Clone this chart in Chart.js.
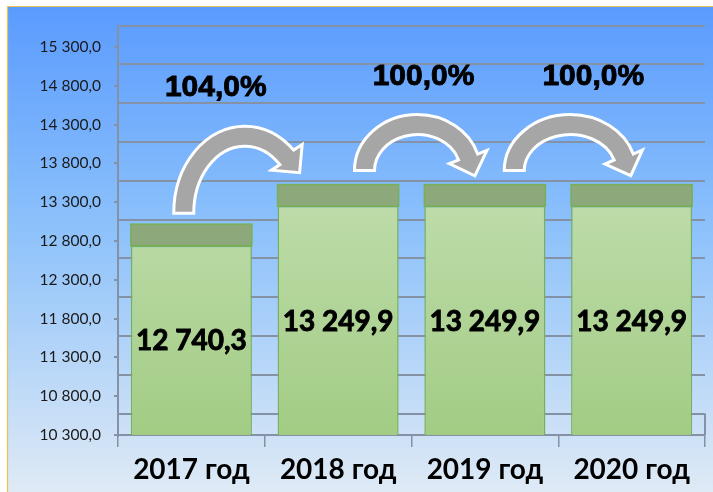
<!DOCTYPE html>
<html>
<head>
<meta charset="utf-8">
<script src="https://cdn.jsdelivr.net/npm/chart.js@4.4.1/dist/chart.umd.min.js"></script>
<style>
  html, body { margin: 0; padding: 0; background: #fff; }
  #wrap { width: 713px; height: 492px; position: relative; }
</style>
</head>
<body>
<div id="wrap"><canvas id="chart" width="713" height="492"></canvas></div>
<script>
// data
const years = ['2017 год', '2018 год', '2019 год', '2020 год'];
const amounts = [12740.3, 13249.9, 13249.9, 13249.9];
const growth = [104.0, 100.0, 100.0];   // % к предыдущему году
const yMin = 10300, yMax = 15300, yStep = 500;

// looks
const DEPTH = 21.5;        // "3d" depth in px
const gridColor = '#8592a6';
const arrowStyle = [
    { dx: -20, rx: 61, ry: 77, end: -0.81, gap: 11, lx: -29 },
    { dx: 6,   rx: 53, ry: 46, end: -0.30, gap: 14, lx: 6 },
    { dx: 12,  rx: 56, ry: 46, end: -0.30, gap: 14, lx: 23 }
];

function fmt(v, d) {
    const parts = v.toFixed(d).split('.');
    const int = parts[0].replace(/\B(?=(\d{3})+(?!\d))/g, ' ');
    return d > 0 ? int + ',' + parts[1] : int;
}

// background panel
const panelBg = {
    id: 'panelBg',
    beforeDraw(chart) {
        const c = chart.ctx;
        c.save();
        c.fillStyle = '#fff';
        c.fillRect(0, 0, chart.width, chart.height);
        const g = c.createLinearGradient(0, 7, 0, chart.height);
        g.addColorStop(0, '#5a9bfe');
        g.addColorStop(0.45, '#8cc1fb');
        g.addColorStop(1, '#dfeaf5');
        c.fillStyle = g;
        c.fillRect(8, 7, chart.width - 8, chart.height - 7);
        c.strokeStyle = '#e9c24f';
        c.lineWidth = 1.2;
        c.beginPath();
        c.moveTo(7.5, chart.height); c.lineTo(7.5, 6.5); c.lineTo(chart.width, 6.5);
        c.stroke();
        c.restore();
    }
};

// back wall grid (shifted up by the depth)
const backGrid = {
    id: 'backGrid',
    beforeDatasetsDraw(chart) {
        const c = chart.ctx, y = chart.scales.y, ca = chart.chartArea;
        c.save();
        c.strokeStyle = gridColor;
        c.lineWidth = 2;
        y.ticks.forEach(t => {
            const py = Math.round(y.getPixelForValue(t.value) - DEPTH);
            c.beginPath();
            c.moveTo(ca.left, py);
            c.lineTo(ca.right, py);
            c.stroke();
        });
        // wall edges
        c.beginPath();
        c.moveTo(ca.left, ca.top - DEPTH);
        c.lineTo(ca.left, ca.bottom + 2);
        c.moveTo(ca.right, ca.bottom - DEPTH);
        c.lineTo(ca.right, ca.bottom);
        c.stroke();
        c.restore();
    }
};

function drawArrow(c, cx, cy, rx, ry, end) {
    const hw = 10, hh = 20, hl = 20;
    const mx = cx + rx * Math.cos(end), my = cy + ry * Math.sin(end);
    let nx = Math.cos(end) / rx, ny = Math.sin(end) / ry;
    let nl = Math.hypot(nx, ny); nx /= nl; ny /= nl;
    let tx = -rx * Math.sin(end), ty = ry * Math.cos(end);
    let tl = Math.hypot(tx, ty); tx /= tl; ty /= tl;
    const e = end + Math.PI * 2;
    c.beginPath();
    c.ellipse(cx, cy, rx + hw, ry + hw, 0, Math.PI, e, false);
    c.lineTo(mx + nx * hh, my + ny * hh);
    c.lineTo(mx + tx * hl, my + ty * hl);
    c.lineTo(mx - nx * hh, my - ny * hh);
    c.ellipse(cx, cy, rx - hw, ry - hw, 0, e, Math.PI, true);
    c.closePath();
    c.fillStyle = '#a6a6a6';
    c.fill();
    c.strokeStyle = '#fff';
    c.lineWidth = 3;
    c.lineJoin = 'miter';
    c.stroke();
}

// bold text, a bit heavier
function heavyText(c, txt, x, y) {
    c.fillText(txt, x, y);
    c.lineWidth = 0.9;
    c.strokeStyle = '#000';
    c.strokeText(txt, x, y);
}

// bar tops, value labels, arrows
const barDecor = {
    id: 'barDecor',
    afterDatasetsDraw(chart) {
        const c = chart.ctx;
        const ys = chart.scales.y;
        const bars = chart.getDatasetMeta(0).data.map(b => ({ x: b.x, y: b.y, width: b.width }));
        const base = ys.getPixelForValue(yMin);
        c.save();
        bars.forEach((b, i) => {
            c.fillStyle = '#8da87b';
            c.strokeStyle = '#78b057';
            c.lineWidth = 1.5;
            c.fillRect(b.x - b.width / 2, b.y - DEPTH, b.width, DEPTH);
            c.strokeRect(b.x - b.width / 2, b.y - DEPTH, b.width, DEPTH);
        });
        c.fillStyle = '#000';
        c.font = 'bold 28px Lato';
        c.textAlign = 'center';
        c.textBaseline = 'middle';
        bars.forEach((b, i) => {
            heavyText(c, fmt(amounts[i], 1), b.x, (b.y + base) / 2 + 1);
        });
        growth.forEach((g, i) => {
            const s = arrowStyle[i];
            const a = bars[i], b = bars[i + 1];
            const cx = (a.x + b.x) / 2 + s.dx;
            const cy = a.y - DEPTH - s.gap;
            drawArrow(c, cx, cy, s.rx, s.ry, s.end);
            c.fillStyle = '#000';
            c.font = 'bold 30px "Liberation Sans", Arial';
            c.textAlign = 'center';
            c.textBaseline = 'middle';
            heavyText(c, fmt(g, 1) + '%', cx + s.lx, cy - s.ry - 10 - 38);
        });
        c.restore();
    }
};

const ctx = document.getElementById('chart').getContext('2d');
new Chart(ctx, {
    type: 'bar',
    data: {
        labels: years,
        datasets: [{
            data: amounts,
            backgroundColor: (context) => {
                const ca = context.chart.chartArea;
                if (!ca) return '#b5d69c';
                const g = context.chart.ctx.createLinearGradient(0, ca.top + 150, 0, ca.bottom);
                g.addColorStop(0, '#bedcaa');
                g.addColorStop(1, '#a2cc84');
                return g;
            },
            borderColor: '#78b057',
            borderWidth: 1.5,
            borderSkipped: false,
            barPercentage: 0.825,
            categoryPercentage: 1
        }]
    },
    options: {
        responsive: false,
        animation: false,
        devicePixelRatio: 1,
        layout: { padding: { top: 47, right: 8, left: 0, bottom: 0 } },
        plugins: {
            legend: { display: false },
            title: { display: false },
            tooltip: { enabled: false }
        },
        scales: {
            y: {
                min: yMin,
                max: yMax,
                afterFit: s => { s.width = 118; },
                ticks: {
                    stepSize: yStep,
                    padding: 13,
                    color: '#1a1a1a',
                    font: { family: 'Lato', size: 15.5 },
                    callback: v => fmt(v, 1)
                },
                grid: { drawOnChartArea: false, tickLength: 4, color: gridColor, lineWidth: 2 },
                border: { display: false }
            },
            x: {
                afterFit: s => { s.height = 57; },
                ticks: {
                    padding: 6,
                    color: '#000',
                    font: { family: 'Lato', size: 28, weight: 'bold' }
                },
                grid: { drawOnChartArea: false, tickLength: 12, color: gridColor, lineWidth: 1.5 },
                border: { display: true, color: gridColor, width: 2 }
            }
        }
    },
    plugins: [panelBg, backGrid, barDecor]
});
</script>
</body>
</html>
